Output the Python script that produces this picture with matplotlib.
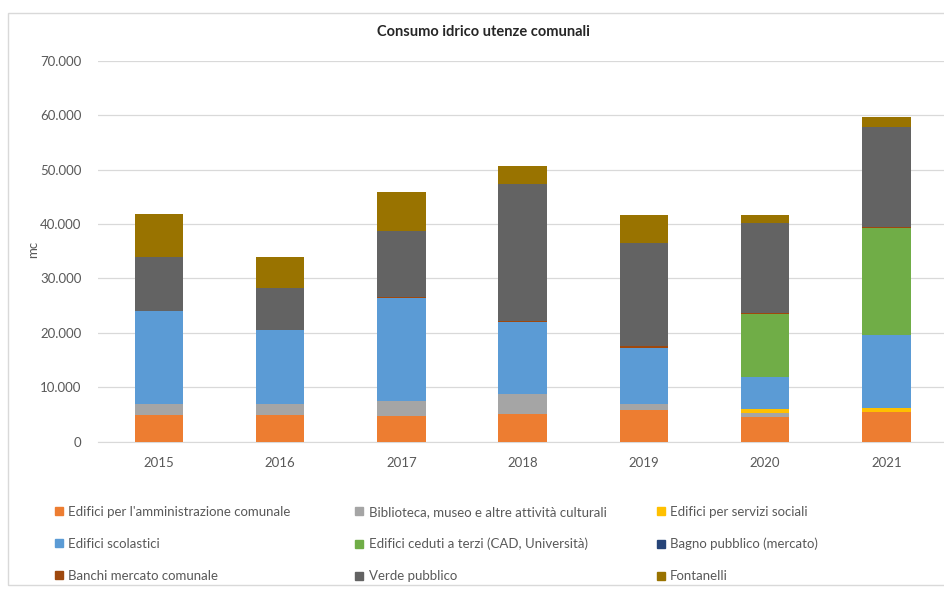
import matplotlib.pyplot as plt
import matplotlib.ticker as mticker
from matplotlib.patches import Patch, Rectangle

plt.rcParams["font.family"] = ["Lato", "DejaVu Sans"]

# Consumo idrico (mc) per categoria di utenza
anni = ["2015", "2016", "2017", "2018", "2019", "2020", "2021"]
amministrazione = [4870, 4870, 4780, 5050, 5790, 4560, 5510]
biblioteca = [2020, 1970, 2720, 3630, 1100, 750, 0]
servizi_sociali = [0, 0, 0, 0, 0, 700, 600]
scolastici = [17100, 13650, 18930, 13340, 10420, 5900, 13470]
ceduti = [0, 0, 0, 0, 0, 11470, 19620]
bagno = [0, 0, 0, 0, 0, 0, 150]
banchi = [100, 100, 150, 250, 200, 300, 150]
verde = [9770, 7570, 12110, 25000, 18920, 16420, 18370]
fontanelli = [7950, 5810, 7110, 3370, 5200, 1530, 1730]

serie = [
    ("Edifici per l'amministrazione comunale", amministrazione, "#ED7D31"),
    ("Biblioteca, museo e altre attività culturali", biblioteca, "#A5A5A5"),
    ("Edifici per servizi sociali", servizi_sociali, "#FFC000"),
    ("Edifici scolastici", scolastici, "#5B9BD5"),
    ("Edifici ceduti a terzi (CAD, Università)", ceduti, "#70AD47"),
    ("Bagno pubblico (mercato)", bagno, "#264478"),
    ("Banchi mercato comunale", banchi, "#9E480E"),
    ("Verde pubblico", verde, "#636363"),
    ("Fontanelli", fontanelli, "#997300"),
]

fig = plt.figure(figsize=(9.45, 5.95), dpi=100)
ax = fig.add_axes([0.104, 0.2576, 0.898, 0.6404])

x = range(len(anni))
base = [0] * len(anni)
for nome, valori, colore in serie:
    ax.bar(x, valori, bottom=base, width=0.4, color=colore, zorder=3)
    base = [b + v for b, v in zip(base, valori)]

ax.set_xlim(-0.5, len(anni) - 0.5)
ax.set_ylim(0, 70000)
ax.set_yticks(range(0, 70001, 10000))
ax.yaxis.set_major_formatter(
    mticker.FuncFormatter(lambda v, p: f"{int(v):,}".replace(",", "."))
)
ax.set_xticks(list(x))
ax.set_xticklabels(anni)
ax.grid(axis="y", color="#D9D9D9", linewidth=0.9, zorder=0)
for s in ["top", "right", "left"]:
    ax.spines[s].set_visible(False)
ax.spines["bottom"].set_color("#D9D9D9")
ax.tick_params(axis="both", length=0, labelsize=9.5, colors="#595959")
ax.tick_params(axis="y", pad=12)
ax.tick_params(axis="x", pad=11)

fig.text(0.512, 0.946, "Consumo idrico utenze comunali", ha="center", va="center",
         fontsize=10.5, fontweight="bold", color="#262626")
fig.text(0.035, 0.58, "mc", rotation=90, ha="center", va="center",
         fontsize=9.5, color="#595959")

# cornice dell'area del grafico
fig.patches.append(Rectangle((8 / 945, 10 / 595), 1.0, 1 - 23 / 595,
                             transform=fig.transFigure, fill=False,
                             edgecolor="#D9D9D9", linewidth=1.0))

# legenda su tre colonne, riempita per righe
colonne_x = [0.058, 0.376, 0.695]
for c, xc in enumerate(colonne_x):
    voci = [serie[c + 3 * r] for r in range(3)]
    maniglie = [Patch(color=col) for _, _, col in voci]
    fig.legend(maniglie, [n for n, _, _ in voci], loc="upper left",
               bbox_to_anchor=(xc, 0.150), frameon=False,
               fontsize=9.5, labelcolor="#595959", handlelength=0.6,
               handleheight=0.6, handletextpad=0.4, labelspacing=1.52,
               borderpad=0, borderaxespad=0)

fig.savefig("out.png", dpi=100)
